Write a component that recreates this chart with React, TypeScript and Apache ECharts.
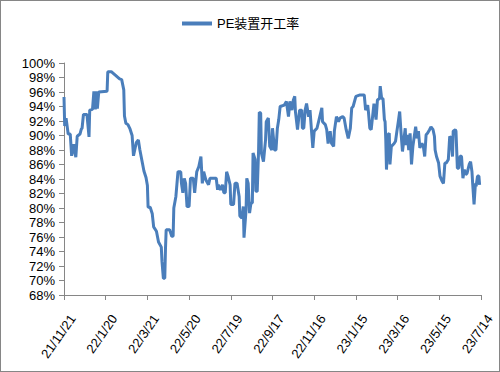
import React, { useEffect, useRef } from 'react';
import * as echarts from 'echarts';

const seriesName = 'PE装置开工率';

const xTickLabels = ['21/11/21', '22/1/20', '22/3/21', '22/5/20', '22/7/19', '22/9/17', '22/11/16', '23/1/15', '23/3/16', '23/5/15', '23/7/14'];

const yMin = 68;
const yMax = 100;
const yStep = 2;

const dates = [
  '21/11/21','21/11/22','21/11/24','21/11/27','21/11/30','21/12/2','21/12/3','21/12/5','21/12/6','21/12/8','21/12/10','21/12/14','21/12/16','21/12/17','21/12/19','21/12/24','21/12/27','21/12/28',
  '22/1/1','22/1/3','22/1/5','22/1/7','22/1/8','22/1/10','22/1/22','22/1/23','22/1/28','22/2/9','22/2/12','22/2/15','22/2/16','22/2/18','22/2/21','22/2/24','22/2/27',
  '22/3/1','22/3/3','22/3/5','22/3/8','22/3/10','22/3/14','22/3/16','22/3/19','22/3/21','22/3/22','22/3/25','22/3/28','22/3/30',
  '22/4/3','22/4/6','22/4/10','22/4/11','22/4/13','22/4/15','22/4/16','22/4/17','22/4/22','22/4/25','22/4/27','22/4/28',
  '22/5/1','22/5/4','22/5/8','22/5/9','22/5/11','22/5/13','22/5/15','22/5/17','22/5/20','22/5/22','22/5/26','22/5/28','22/5/31',
  '22/6/3','22/6/6','22/6/8','22/6/10','22/6/13','22/6/17','22/6/19','22/6/28','22/6/30',
  '22/7/1','22/7/4','22/7/7','22/7/9','22/7/11','22/7/13','22/7/15','22/7/18','22/7/19','22/7/23','22/7/25','22/7/28','22/7/31',
  '22/8/1','22/8/4','22/8/6','22/8/7','22/8/10','22/8/11','22/8/13','22/8/15','22/8/17','22/8/19','22/8/20','22/8/23','22/8/24','22/8/26','22/8/28','22/8/29','22/8/31',
  '22/9/1','22/9/4','22/9/7','22/9/8','22/9/11','22/9/13','22/9/16','22/9/17','22/9/20','22/9/22','22/9/24','22/9/26','22/9/28',
  '22/10/4','22/10/7','22/10/10','22/10/12','22/10/15','22/10/17','22/10/19','22/10/20','22/10/23','22/10/26','22/10/29','22/10/30',
  '22/11/1','22/11/3','22/11/5','22/11/8','22/11/10','22/11/12','22/11/14','22/11/16','22/11/20','22/11/23','22/11/27','22/11/28',
  '22/12/2','22/12/4','22/12/6','22/12/9','22/12/11','22/12/14','22/12/15','22/12/18','22/12/19','22/12/21','22/12/23','22/12/27','22/12/29',
  '23/1/1','23/1/4','23/1/7','23/1/9','23/1/11','23/1/15','23/1/21','23/1/27','23/1/29',
  '23/2/1','23/2/2','23/2/4','23/2/6','23/2/8','23/2/10','23/2/13','23/2/15','23/2/18','23/2/19','23/2/21','23/2/23','23/2/25','23/2/26','23/2/27','23/2/28',
  '23/3/2','23/3/4','23/3/5','23/3/7','23/3/11','23/3/13','23/3/15','23/3/17','23/3/19','23/3/21','23/3/23','23/3/24','23/3/27','23/3/28','23/3/30',
  '23/4/1','23/4/3','23/4/5','23/4/7','23/4/9','23/4/11','23/4/13','23/4/15','23/4/17','23/4/20','23/4/22','23/4/24','23/4/26','23/4/28',
  '23/5/1','23/5/3','23/5/6','23/5/8','23/5/9','23/5/11','23/5/14','23/5/16','23/5/19','23/5/21','23/5/23','23/5/25','23/5/28','23/5/30',
  '23/6/1','23/6/3','23/6/4','23/6/7','23/6/8','23/6/10','23/6/12','23/6/14','23/6/16','23/6/18','23/6/20','23/6/22','23/6/24','23/6/27','23/6/29',
  '23/7/1','23/7/2','23/7/4','23/7/6','23/7/7','23/7/9','23/7/11','23/7/12',
];

const values = [
  95.3,91.3,92.4,90.2,90.2,87.2,87.2,88.8,88.1,87.0,89.9,90.2,90.9,91.0,92.9,92.9,89.8,93.5,
  93.6,96.1,93.6,96.1,93.7,96.0,96.1,98.8,98.8,97.8,97.7,96.3,92.7,91.7,91.5,90.9,90.0,
  87.2,88.1,89.0,89.4,88.1,86.1,85.1,84.2,83.1,80.1,80.1,79.2,77.4,
  76.8,75.3,74.6,72.6,70.3,70.3,74.3,77.0,77.0,76.1,76.1,80.0,
  81.6,85.0,85.0,83.4,82.1,84.1,83.4,80.2,80.2,84.1,84.1,82.1,85.0,
  85.7,87.1,83.4,85.0,83.9,83.2,84.1,84.1,82.5,
  83.2,82.5,83.2,82.1,82.1,85.0,84.4,83.2,80.5,80.5,83.4,83.4,81.6,
  78.9,78.6,80.2,75.9,79.8,84.1,83.4,79.3,80.7,80.7,87.6,86.7,82.3,82.3,88.0,93.2,93.1,
  87.6,86.4,89.4,91.9,92.4,88.5,88.0,91.0,88.0,88.0,91.0,92.2,94.0,
  94.2,94.7,92.6,94.7,93.5,94.9,95.4,93.3,90.8,93.5,93.5,91.0,
  91.0,93.5,94.4,92.6,93.5,90.8,88.3,90.6,91.0,92.2,93.8,91.9,
  91.5,90.8,88.9,90.6,88.9,88.5,90.6,92.6,92.6,91.9,92.4,92.6,92.4,
  90.8,89.6,91.0,93.8,94.0,95.4,95.6,95.6,93.5,
  94.2,93.3,91.0,90.8,92.6,94.4,92.2,94.9,95.1,96.8,95.1,95.1,92.2,91.9,89.4,85.3,
  90.1,90.3,86.0,88.5,88.9,89.2,90.6,91.9,93.3,90.3,87.8,87.8,91.0,88.7,90.1,
  88.0,90.3,86.0,88.5,89.9,91.2,89.6,90.6,88.3,88.9,88.5,87.1,90.1,90.3,
  90.8,91.2,90.8,89.9,88.0,87.1,86.2,84.4,83.7,83.4,86.2,86.2,86.7,89.9,
  89.6,87.1,90.6,90.8,90.6,85.5,85.5,87.2,87.1,84.1,85.3,84.6,84.8,86.0,86.4,
  85.0,83.4,80.5,83.4,83.0,84.4,84.4,83.2,
];

const DAY = 86400000;
const toUtc = (s: string) => {
  const [y, m, d] = s.split('/').map(Number);
  return Date.UTC(2000 + y, m - 1, d);
};
const base = toUtc(xTickLabels[0]);
const dayOffset = (s: string) => Math.round((toUtc(s) - base) / DAY);

export default function App() {
  const ref = useRef<HTMLDivElement>(null);

  useEffect(() => {
    document.body.style.margin = '0';
    if (!ref.current) return;
    const chart = echarts.init(ref.current, undefined, { renderer: 'svg' });
    const tickOffsets = xTickLabels.map(dayOffset);
    const font = "'Liberation Sans', 'Noto Sans CJK SC', sans-serif";
    const axisColor = '#868686';
    chart.setOption({
      animation: false,
      backgroundColor: '#ffffff',
      legend: {
        data: [seriesName],
        left: 181,
        top: 16,
        padding: 0,
        icon: 'rect',
        itemWidth: 30,
        itemHeight: 4,
        itemGap: 5,
        textStyle: { fontSize: 13, color: '#000', fontFamily: font },
      },
      grid: { left: 63, right: 18, top: 62, bottom: 76, containLabel: false },
      xAxis: {
        type: 'value',
        min: tickOffsets[0],
        max: tickOffsets[tickOffsets.length - 1],
        interval: tickOffsets[1] - tickOffsets[0],
        splitLine: { show: false },
        axisLine: { show: true, lineStyle: { color: axisColor, width: 1 } },
        axisTick: { show: true, length: 5, lineStyle: { color: axisColor } },
        axisLabel: {
          rotate: 55,
          margin: 15,
          fontSize: 13,
          color: '#000',
          fontFamily: font,
          verticalAlign: 'top',
          padding: [4, 0, 0, 0],
          showMinLabel: true,
          showMaxLabel: true,
          formatter: (v: number) => {
            const i = tickOffsets.indexOf(Math.round(v));
            return i >= 0 ? xTickLabels[i] : '';
          },
        },
      },
      yAxis: {
        type: 'value',
        min: yMin,
        max: yMax,
        interval: yStep,
        splitLine: { show: false },
        axisLine: { show: true, lineStyle: { color: axisColor, width: 1 } },
        axisTick: { show: true, length: 5, lineStyle: { color: axisColor } },
        axisLabel: {
          margin: 9,
          fontSize: 13,
          color: '#000',
          fontFamily: font,
          formatter: '{value}%',
        },
      },
      series: [
        {
          name: seriesName,
          type: 'line',
          data: dates.map((d, i) => [dayOffset(d), values[i]]),
          showSymbol: false,
          symbol: 'none',
          itemStyle: { color: '#4A7EBB' },
          lineStyle: { color: '#4A7EBB', width: 3 },
        },
      ],
    });
    return () => chart.dispose();
  }, []);

  return (
    <div
      style={{
        position: 'absolute',
        left: 0,
        top: 0,
        width: 500,
        height: 372,
        boxSizing: 'border-box',
        border: '1px solid #868686',
        background: '#fff',
      }}
    >
      <div ref={ref} style={{ width: 498, height: 370 }} />
    </div>
  );
}
